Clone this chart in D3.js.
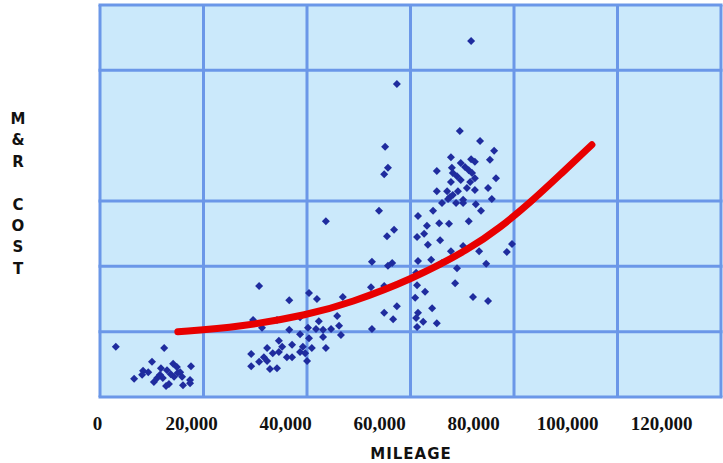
<!DOCTYPE html>
<html>
<head>
<meta charset="utf-8">
<script src="https://cdn.jsdelivr.net/npm/d3@7"></script>
<style>
  body { margin: 0; background: #fff; }
  svg { display: block; }
</style>
</head>
<body>
<svg id="chart" width="723" height="463"></svg>
<script>
// mileage of each vehicle
var mileage = [
  4000, 14300, 11700, 20000, 16200, 17000, 13600, 9800, 10900, 14900,
  17700, 9600, 13400, 17200, 7900, 12100, 14000, 16400, 18100, 19800,
  15300, 18300, 19800, 14700, 12800, 15700,
  34500, 40900, 45100, 46800, 52300, 33200, 38300, 35100, 40900, 43200,
  47200, 51100, 43200, 44900, 46600, 48100, 49800, 51500, 51900, 45100,
  48100, 38700, 41500, 39400, 36200, 43800, 45700, 48700, 37400, 38700,
  32800, 43200, 40400, 41500, 34500, 36200, 32800, 36800, 38300, 44700,
  35500, 44300,
  60000, 63200, 61700, 58500, 61900, 62800, 58300, 61100, 63800, 61100,
  63000, 58500, 48700,
  79600, 63800, 61300, 61900, 61100,
  68300, 71500, 70200, 69600, 68100, 70400, 68300, 71100, 67900, 68100,
  69800, 67700, 71300, 68300, 67900, 69400, 68100, 72300, 72800, 74900,
  79100, 73000, 77900, 75300, 81300, 88300, 87200, 73400, 82800, 76600,
  76200, 80000, 83200,
  77200, 81500, 84500, 83600, 75300, 79600, 80400, 77400, 72300, 75500,
  78300, 79100, 75700, 76600, 79800, 80400, 84900, 75300, 77400, 79400,
  83200, 78700, 80400, 72300, 74500, 76800, 75700, 75100, 77900, 74700,
  84000, 73400, 76400, 77900, 80600, 81700
];

// maintenance & repair cost, in grid units
var cost = [
  0.77, 0.75, 0.54, 0.47, 0.51, 0.46, 0.44, 0.40, 0.38, 0.41,
  0.38, 0.34, 0.34, 0.37, 0.28, 0.23, 0.29, 0.31, 0.31, 0.26,
  0.20, 0.18, 0.21, 0.17, 0.29, 0.35,
  1.70, 1.48, 1.59, 1.50, 1.53, 1.18, 1.18, 1.06, 1.03, 1.22,
  1.16, 1.24, 0.96, 1.06, 1.04, 1.03, 1.04, 1.09, 0.95, 0.90,
  0.92, 0.86, 0.80, 0.77, 0.75, 0.77, 0.75, 0.75, 0.67, 0.69,
  0.66, 0.69, 0.61, 0.61, 0.54, 0.55, 0.47, 0.43, 0.44, 0.55,
  0.61, 0.67,
  2.85, 2.56, 2.46, 2.07, 2.01, 2.05, 1.68, 1.70, 1.39, 1.29,
  1.19, 1.04, 2.69,
  5.45, 4.79, 3.83, 3.51, 3.41,
  2.77, 2.85, 2.62, 2.50, 2.45, 2.33, 2.08, 2.10, 1.90, 1.71,
  1.61, 1.52, 1.36, 1.29, 1.21, 1.15, 1.07, 1.13, 2.66, 2.65,
  2.69, 2.40, 2.31, 2.23, 2.23, 2.34, 2.22, 2.05, 2.04, 1.97,
  1.74, 1.53, 1.47,
  4.07, 3.92, 3.77, 3.63, 3.67, 3.64, 3.60, 3.58, 3.46, 3.51,
  3.52, 3.47, 3.43, 3.38, 3.43, 3.35, 3.35, 3.29, 3.32, 3.29,
  3.20, 3.20, 3.17, 3.15, 3.15, 3.15, 3.09, 3.06, 3.02, 3.03,
  3.03, 2.97, 2.97, 2.97, 2.95, 2.85
];

// trend curve
var trendMileage = [17200, 30400, 45100, 53800, 67000, 79400, 85700, 92100, 98500, 105300];
var trendCost = [1.00, 1.07, 1.26, 1.44, 1.80, 2.27, 2.59, 2.97, 3.40, 3.86];

var xTicks = [0, 20000, 40000, 60000, 80000, 100000, 120000];
var gridCols = [0, 1, 2, 3, 4, 5, 6];
var gridRows = [0, 1, 2, 3, 5, 6];
var yTitle = ['M', '&', 'R', '', 'C', 'O', 'S', 'T'];

var svg = d3.select('#chart');

var x = d3.scaleLinear().domain([0, 120000]).range([97, 661]);
var y = d3.scaleLinear().domain([0, 6]).range([397, 5]);
var gx = d3.scaleLinear().domain([0, 6]).range([100, 721]);

var plot = svg.append('g').attr('class', 'plot');

plot.append('rect')
  .attr('x', gx(0))
  .attr('y', y(6))
  .attr('width', gx(6) - gx(0))
  .attr('height', y(0) - y(6))
  .attr('fill', '#cbe9fb');

plot.selectAll('line.vgrid')
  .data(gridCols)
  .enter().append('line')
  .attr('class', 'vgrid')
  .attr('x1', function(d) { return gx(d); })
  .attr('x2', function(d) { return gx(d); })
  .attr('y1', y(6))
  .attr('y2', y(0))
  .attr('stroke', '#6b97e8')
  .attr('stroke-width', 3);

plot.selectAll('line.hgrid')
  .data(gridRows)
  .enter().append('line')
  .attr('class', 'hgrid')
  .attr('x1', gx(0) - 1.5)
  .attr('x2', gx(6) + 1.5)
  .attr('y1', function(d) { return y(d); })
  .attr('y2', function(d) { return y(d); })
  .attr('stroke', '#6b97e8')
  .attr('stroke-width', 3);

var diamond = d3.symbol().type(d3.symbolSquare).size(32);

plot.selectAll('path.pt')
  .data(d3.range(mileage.length))
  .enter().append('path')
  .attr('class', 'pt')
  .attr('d', diamond)
  .attr('transform', function(i) {
    return 'translate(' + x(mileage[i]) + ',' + y(cost[i]) + ') rotate(45)';
  })
  .attr('fill', '#1f2c9e');

var line = d3.line()
  .x(function(i) { return x(trendMileage[i]); })
  .y(function(i) { return y(trendCost[i]); })
  .curve(d3.curveBasis);

plot.append('path')
  .datum(d3.range(trendMileage.length))
  .attr('d', line)
  .attr('fill', 'none')
  .attr('stroke', '#e80000')
  .attr('stroke-width', 7)
  .attr('stroke-linecap', 'round');

// x axis labels only, no domain or tick marks
var xAxis = svg.append('g')
  .attr('transform', 'translate(0,416)')
  .call(d3.axisBottom(x).tickValues(xTicks).tickFormat(d3.format(',')).tickSize(0));

xAxis.select('.domain').remove();
xAxis.selectAll('text')
  .attr('dy', '0.6em')
  .attr('fill', '#111')
  .style('font-family', '"Liberation Serif", "Times New Roman", serif')
  .style('font-size', '19px')
  .style('font-weight', 'bold');

svg.append('text')
  .attr('x', 411)
  .attr('y', 459)
  .attr('text-anchor', 'middle')
  .attr('fill', '#111')
  .style('font-family', '"DejaVu Sans", Verdana, sans-serif')
  .style('font-size', '15px')
  .style('font-weight', 'bold')
  .style('letter-spacing', '1px')
  .text('MILEAGE');

svg.append('g').selectAll('text')
  .data(yTitle)
  .enter().append('text')
  .attr('x', 18)
  .attr('y', function(d, i) { return 124 + i * 21.4; })
  .attr('text-anchor', 'middle')
  .attr('fill', '#111')
  .style('font-family', '"DejaVu Sans", Verdana, sans-serif')
  .style('font-size', '15px')
  .style('font-weight', 'bold')
  .text(function(d) { return d; });
</script>
</body>
</html>
